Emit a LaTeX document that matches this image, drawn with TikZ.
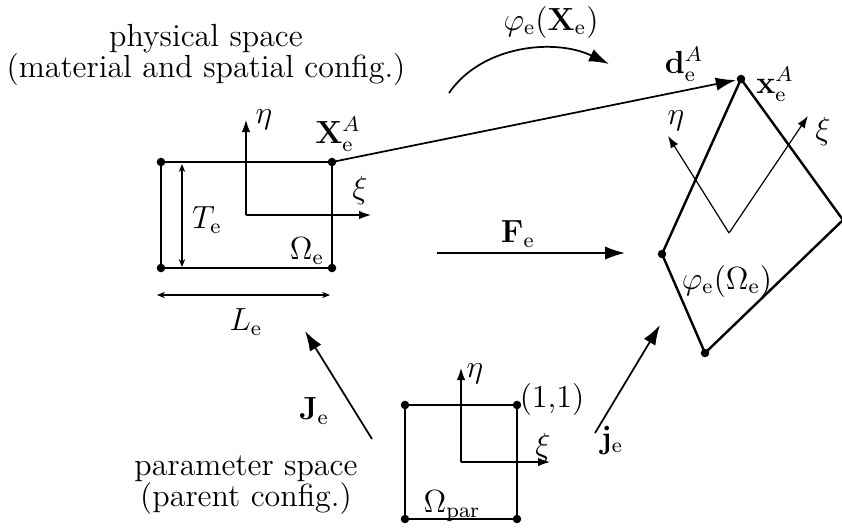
\documentclass[tikz,border=0pt,12pt]{standalone}
\usetikzlibrary{arrows.meta,positioning}

\tikzset{
  dot/.style={circle, fill, inner sep=0pt, minimum size=3.2pt},
  elem/.style={line width=0.9pt, line join=round},
  axis/.style={-{Latex[length=4.5pt,width=3.2pt]}, line width=0.45pt},
  maparrow/.style={-{Latex[length=7.5pt,width=5pt]}, line width=0.65pt},
  dimarrow/.style={{Stealth[length=3pt,width=2.4pt]}-{Stealth[length=3pt,width=2.4pt]}, line width=0.4pt},
}

\begin{document}
\begin{tikzpicture}[x=0.375pt, y=-0.375pt]
  \useasboundingbox (0,0) rectangle (842,527);

  % Physical element
  \coordinate (P1) at (161,268);
  \coordinate (P2) at (332,268);
  \coordinate (P3) at (332,162);
  \coordinate (P4) at (161,162);
  \draw[elem] (P1) -- (P2) -- (P3) -- (P4) -- cycle;
  \foreach \c in {P1,P2,P3,P4} \node[dot] at (\c) {};
  \node (XA) at (338,134) {$\mathbf{X}_\mathrm{e}^A$};
  \node (omegaE) at (307,251) {$\Omega_\mathrm{e}$};

  % Physical axes
  \coordinate (o1) at (246,215);
  \coordinate (eta1) at (246,120);
  \coordinate (xi1) at (371,215);
  \draw[axis] (o1) -- (eta1);
  \draw[axis] (o1) -- (xi1);
  \node (etaL1) at (264,120) {$\eta$};
  \node (xiL1) at (360,190) {$\xi$};

  % Dimensions
  \coordinate (Tb) at (182,267);
  \coordinate (Tt) at (182,164);
  \draw[dimarrow] (Tb) -- (Tt);
  \node (TE) at (207,220) {$T_\mathrm{e}$};
  \coordinate (Ll) at (157,295);
  \coordinate (Lr) at (330,295);
  \draw[dimarrow] (Ll) -- (Lr);
  \node (LE) at (246,322) {$L_\mathrm{e}$};

  \node[align=center] (phys) at (206,55) {physical space\\[-3pt](material and spatial config.)};

  % Deformed element
  \coordinate (Q1) at (705,353);
  \coordinate (Q2) at (843,220);
  \coordinate (Q3) at (741,79);
  \coordinate (Q4) at (662,254);
  \draw[elem] (Q1) -- (Q2) -- (Q3) -- (Q4) -- cycle;
  \foreach \c in {Q1,Q3,Q4} \node[dot] at (\c) {};
  \node (xA) at (775,84) {$\mathbf{x}_\mathrm{e}^A$};
  \node (phiOmega) at (727,281) {$\varphi_\mathrm{e}(\Omega_\mathrm{e})$};

  % Deformed axes
  \coordinate (o2) at (729,233);
  \coordinate (eta2) at (668,136);
  \coordinate (xi2) at (808,116);
  \draw[axis] (o2) -- (eta2);
  \draw[axis] (o2) -- (xi2);
  \node (etaL2) at (676,121) {$\eta$};
  \node (xiL2) at (823,131) {$\xi$};

  % Displacement and mappings
  \draw[maparrow, shorten >=2pt] (P3) -- (Q3);
  \node (dA) at (684,64) {$\mathbf{d}_\mathrm{e}^A$};

  \coordinate (phiS) at (449,93);
  \coordinate (phiE) at (609,64);
  \draw[maparrow] (phiS) .. controls (482,45) and (555,38) .. (phiE);
  \node (phiX) at (551,22) {$\varphi_\mathrm{e}(\mathbf{X}_\mathrm{e})$};

  \coordinate (Fs) at (437,253);
  \coordinate (Fe) at (625,253);
  \draw[maparrow] (Fs) -- (Fe);
  \node (FE) at (518,234) {$\mathbf{F}_\mathrm{e}$};

  % Parent element
  \coordinate (R1) at (405,519);
  \coordinate (R2) at (517,519);
  \coordinate (R3) at (517,405);
  \coordinate (R4) at (405,405);
  \draw[elem] (R1) -- (R2) -- (R3) -- (R4) -- cycle;
  \foreach \c in {R1,R2,R3,R4} \node[dot] at (\c) {};
  \node (one) at (552,400) {(1,1)};
  \node (omegaP) at (452,506) {$\Omega_\mathrm{par}$};

  % Parent axes
  \coordinate (o3) at (461,462);
  \coordinate (eta3) at (461,368);
  \coordinate (xi3) at (550,462);
  \draw[axis] (o3) -- (eta3);
  \draw[axis] (o3) -- (xi3);
  \node (etaL3) at (475,374) {$\eta$};
  \node (xiL3) at (543,447) {$\xi$};

  \node[align=center] (param) at (246,485) {parameter space\\[-3pt](parent config.)};

  % Jacobians
  \coordinate (Js) at (372,439);
  \coordinate (Je) at (305,331);
  \draw[maparrow] (Js) -- (Je);
  \node (JE) at (314,411) {$\mathbf{J}_\mathrm{e}$};
  \coordinate (js) at (595,433);
  \coordinate (je) at (660,325);
  \draw[maparrow] (js) -- (je);
  \node (jE) at (612,440) {$\mathbf{j}_\mathrm{e}$};
\end{tikzpicture}
\end{document}
